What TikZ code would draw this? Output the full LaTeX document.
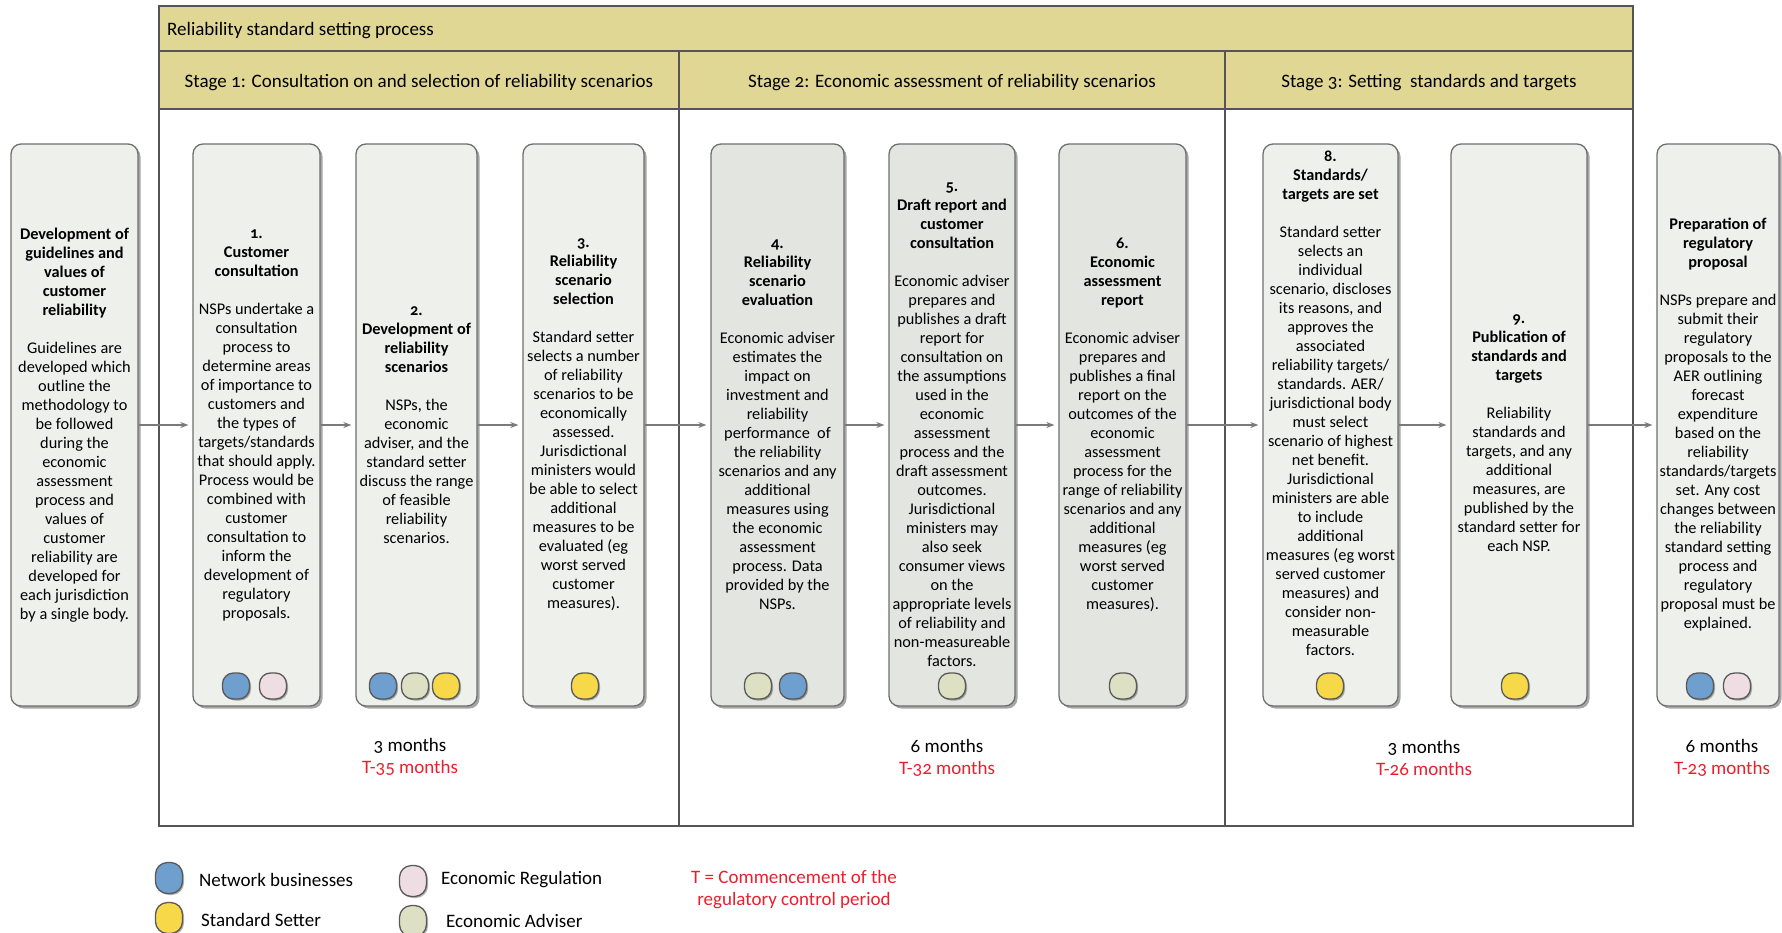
\documentclass[tikz,border=0pt]{standalone}
\usepackage{fontspec}
\setmainfont{Carlito}[Numbers=OldStyle]
\usetikzlibrary{arrows.meta,shadows}

\definecolor{boxfill}{HTML}{EEF0EB}
\definecolor{boxfilldark}{HTML}{E3E5E1}
\definecolor{boxline}{HTML}{6F6F6F}
\definecolor{band}{HTML}{E0D794}
\definecolor{frameline}{HTML}{555555}
\definecolor{arrowgray}{HTML}{7A7A7A}
\definecolor{nbblue}{HTML}{6E9FCF}
\definecolor{regpink}{HTML}{EEDDE2}
\definecolor{ssyellow}{HTML}{F6D848}
\definecolor{eabeige}{HTML}{DEE0C3}
\definecolor{tred}{HTML}{E8202E}

\tikzset{
  stepbox/.style={draw=boxline, line width=1.3pt, rounded corners=10pt,
    fill=boxfill, minimum height=562pt, inner sep=0pt,
    drop shadow={shadow xshift=2.5pt, shadow yshift=-2.5pt, opacity=0.35, fill=black}},
  stepboxdark/.style={stepbox, fill=boxfilldark},
  boxtext/.style={align=center, font=\fontsize{16.3}{19}\selectfont, inner sep=0pt},
  swatch/.style={draw=black!65, line width=1.3pt, rounded corners=11pt,
    minimum width=27pt, minimum height=26pt, inner sep=0pt,
    drop shadow={shadow xshift=1.5pt, shadow yshift=-1.5pt, opacity=0.3, fill=black}},
  legswatch/.style={swatch, minimum width=27pt, minimum height=31pt, rounded corners=12pt},
  flow/.style={draw=arrowgray, line width=1.2pt, shorten >=4pt,
    -{Stealth[length=8pt, width=6pt]}},
  bandcell/.style={draw=frameline, line width=1.2pt, fill=band},
  headtext/.style={font=\fontsize{19}{22}\selectfont, inner sep=0pt},
  durtext/.style={align=center, font=\fontsize{19}{22}\selectfont, inner sep=0pt},
  legtext/.style={anchor=west, font=\fontsize{19}{22}\selectfont, inner sep=0pt},
}

\begin{document}
\begin{tikzpicture}[x=1pt, y=-1pt]
\useasboundingbox (0,0) rectangle (1782,933);

% Process frame with title band and stage headers
\draw[bandcell] (159,6) rectangle (1633,51);
\draw[bandcell] (159,51) rectangle (679,109);
\draw[bandcell] (679,51) rectangle (1225,109);
\draw[bandcell] (1225,51) rectangle (1633,109);
\draw[frameline, line width=1.2pt] (159,109) rectangle (1633,826);
\draw[frameline, line width=1.2pt] (679,109) -- (679,826);
\draw[frameline, line width=1.2pt] (1225,109) -- (1225,826);

\node[headtext, anchor=west] (title) at (167,31) {Reliability standard setting process};
\node[headtext] (s1) at (419,83) {Stage 1: Consultation on and selection of reliability scenarios};
\node[headtext] (s2) at (952,83) {Stage 2: Economic assessment of reliability scenarios};
\node[headtext] (s3) at (1429,83) {Stage 3: Setting \ standards and targets};

% Step boxes
\node[stepbox, minimum width=127pt] (b0) at (74.5,425) {};
\node[stepbox, minimum width=127pt] (b1) at (256.5,425) {};
\node[stepbox, minimum width=121pt] (b2) at (416.5,425) {};
\node[stepbox, minimum width=121pt] (b3) at (583.5,425) {};
\node[stepboxdark, minimum width=133pt] (b4) at (777.5,425) {};
\node[stepboxdark, minimum width=126pt] (b5) at (952,425) {};
\node[stepboxdark, minimum width=127pt] (b6) at (1122.5,425) {};
\node[stepbox, minimum width=135pt] (b8) at (1330.5,425) {};
\node[stepbox, minimum width=136pt] (b9) at (1519,425) {};
\node[stepbox, minimum width=122pt] (bp) at (1718,425) {};

% Box texts
\node[boxtext] (t0) at (b0.center) {\textbf{Development of}\\\textbf{guidelines and}\\\textbf{values of}\\\textbf{customer}\\\textbf{reliability}\\[19pt]
Guidelines are\\developed which\\outline the\\methodology to\\be followed\\during the\\economic\\assessment\\process and\\values of\\customer\\reliability are\\developed for\\each jurisdiction\\by a single body.};

\node[boxtext] (t1) at (b1.center) {\textbf{1.}\\\textbf{Customer}\\\textbf{consultation}\\[19pt]
NSPs undertake a\\consultation\\process to\\determine areas\\of importance to\\customers and\\the types of\\targets/standards\\that should apply.\\Process would be\\combined with\\customer\\consultation to\\inform the\\development of\\regulatory\\proposals.};

\node[boxtext] (t2) at (b2.center) {\textbf{2.}\\\textbf{Development of}\\\textbf{reliability}\\\textbf{scenarios}\\[19pt]
NSPs, the\\economic\\adviser, and the\\standard setter\\discuss the range\\of feasible\\reliability\\scenarios.};

\node[boxtext] (t3) at (b3.center) {\textbf{3.}\\\textbf{Reliability}\\\textbf{scenario}\\\textbf{selection}\\[19pt]
Standard setter\\selects a number\\of reliability\\scenarios to be\\economically\\assessed.\\Jurisdictional\\ministers would\\be able to select\\additional\\measures to be\\evaluated (eg\\worst served\\customer\\measures).};

\node[boxtext] (t4) at (b4.center) {\textbf{4.}\\\textbf{Reliability}\\\textbf{scenario}\\\textbf{evaluation}\\[19pt]
Economic adviser\\estimates the\\impact on\\investment and\\reliability\\performance \ of\\the reliability\\scenarios and any\\additional\\measures using\\the economic\\assessment\\process. Data\\provided by the\\NSPs.};

\node[boxtext] (t5) at (b5.center) {\textbf{5.}\\\textbf{Draft report and}\\\textbf{customer}\\\textbf{consultation}\\[19pt]
Economic adviser\\prepares and\\publishes a draft\\report for\\consultation on\\the assumptions\\used in the\\economic\\assessment\\process and the\\draft assessment\\outcomes.\\Jurisdictional\\ministers may\\also seek\\consumer views\\on the\\appropriate levels\\of reliability and\\non-measureable\\factors.};

\node[boxtext] (t6) at (b6.center) {\textbf{6.}\\\textbf{Economic}\\\textbf{assessment}\\\textbf{report}\\[19pt]
Economic adviser\\prepares and\\publishes a final\\report on the\\outcomes of the\\economic\\assessment\\process for the\\range of reliability\\scenarios and any\\additional\\measures (eg\\worst served\\customer\\measures).};

\node[boxtext] (t8) at ([yshift=22pt]b8.center) {\textbf{8.}\\\textbf{Standards/}\\\textbf{targets are set}\\[19pt]
Standard setter\\selects an\\individual\\scenario, discloses\\its reasons, and\\approves the\\associated\\reliability targets/\\standards. AER/\\jurisdictional body\\must select\\scenario of highest\\net benefit.\\Jurisdictional\\ministers are able\\to include\\additional\\measures (eg worst\\served customer\\measures) and\\consider non-\\measurable\\factors.};

\node[boxtext] (t9) at ([yshift=-8pt]b9.center) {\textbf{9.}\\\textbf{Publication of}\\\textbf{standards and}\\\textbf{targets}\\[19pt]
Reliability\\standards and\\targets, and any\\additional\\measures, are\\published by the\\standard setter for\\each NSP.};

\node[boxtext] (tp) at (bp.center) {\textbf{Preparation of}\\\textbf{regulatory}\\\textbf{proposal}\\[19pt]
NSPs prepare and\\submit their\\regulatory\\proposals to the\\AER outlining\\forecast\\expenditure\\based on the\\reliability\\standards/targets\\set. Any cost\\changes between\\the reliability\\standard setting\\process and\\regulatory\\proposal must be\\explained.};

% Participant swatches in each box
\node[swatch, fill=nbblue]   (w1a) at (236,686) {};
\node[swatch, fill=regpink]  (w1b) at (273,686) {};
\node[swatch, fill=nbblue]   (w2a) at (383,686) {};
\node[swatch, fill=eabeige]  (w2b) at (415,686) {};
\node[swatch, fill=ssyellow] (w2c) at (446,686) {};
\node[swatch, fill=ssyellow] (w3a) at (585,686) {};
\node[swatch, fill=eabeige]  (w4a) at (758,686) {};
\node[swatch, fill=nbblue]   (w4b) at (793,686) {};
\node[swatch, fill=eabeige]  (w5a) at (952,686) {};
\node[swatch, fill=eabeige]  (w6a) at (1123,686) {};
\node[swatch, fill=ssyellow] (w8a) at (1330,686) {};
\node[swatch, fill=ssyellow] (w9a) at (1515,686) {};
\node[swatch, fill=nbblue]   (wpa) at (1700,686) {};
\node[swatch, fill=regpink]  (wpb) at (1737,686) {};

% Flow between steps
\draw[flow] (b0.east) -- (b1.west);
\draw[flow] (b1.east) -- (b2.west);
\draw[flow] (b2.east) -- (b3.west);
\draw[flow] (b3.east) -- (b4.west);
\draw[flow] (b4.east) -- (b5.west);
\draw[flow] (b5.east) -- (b6.west);
\draw[flow] (b6.east) -- (b8.west);
\draw[flow] (b8.east) -- (b9.west);
\draw[flow] (b9.east) -- (bp.west);

% Durations
\node[durtext] (d1) at (410,757) {3 months\\\textcolor{tred}{T-35 months}};
\node[durtext] (d2) at (947,758) {6 months\\\textcolor{tred}{T-32 months}};
\node[durtext] (d3) at (1424,758) {3 months\\\textcolor{tred}{T-26 months}};
\node[durtext] (d4) at (1722,758) {6 months\\\textcolor{tred}{T-23 months}};

% Legend
\node[legswatch, fill=nbblue]   (l1) at (169,878) {};
\node[legswatch, fill=regpink]  (l2) at (413,881) {};
\node[legswatch, fill=ssyellow] (l3) at (169,918) {};
\node[legswatch, fill=eabeige]  (l4) at (413,921) {};
\node[legtext] (lt1) at (199,880) {Network businesses};
\node[legtext] (lt2) at (441,880) {Economic Regulation};
\node[legtext] (lt3) at (201,920) {Standard Setter};
\node[legtext] (lt4) at (446,921) {Economic Adviser};
\node[durtext, text=tred] (tnote) at (794,890) {T = Commencement of the\\regulatory control period};
\end{tikzpicture}
\end{document}
